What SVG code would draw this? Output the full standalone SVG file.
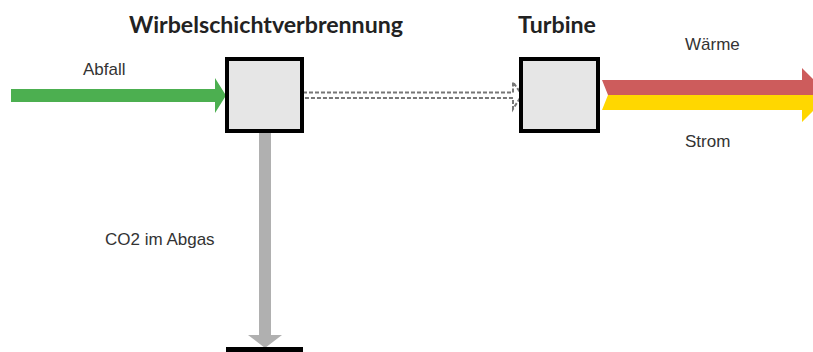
<svg xmlns="http://www.w3.org/2000/svg" width="813" height="352" viewBox="0 0 813 352">
<style>
.box{fill:#e6e6e6;stroke:#000;stroke-width:4}
.title{font-family:Lato,"Liberation Sans",sans-serif;font-weight:bold;font-size:23px;fill:#222}
.lbl{font-family:"Liberation Sans",Arial,sans-serif;font-size:17px;fill:#333}
</style>
<rect width="813" height="352" fill="#fff"/>
<g id="connectors">
<path id="abfall" d="M11,89 H215 V78 L226,95.5 L215,113 V102 H11 Z" fill="#4caf50"/>
<path id="dampf" d="M303,92.5 H513 V82 L522,95 L513,109 V98 H303" fill="#fff" stroke="#777" stroke-width="2" stroke-dasharray="4,2"/>
<path id="co2" d="M259,133 H271 V335 H282 L265,348 L248,335 H259 Z" fill="#b0b0b0"/>
<path id="waerme" d="M602,80 H802 V68 L829,95 H608 Z" fill="#cd5c5c"/>
<path id="strom" d="M608,95 H829 L802,122 V110 H602 Z" fill="#ffd700"/>
</g>
<g id="wirbel">
<rect class="box" x="227" y="59" width="75" height="72"/>
<text class="title" x="129" y="33" textLength="274" lengthAdjust="spacingAndGlyphs">Wirbelschichtverbrennung</text>
</g>
<g id="turbine">
<rect class="box" x="521" y="59" width="77" height="72"/>
<text class="title" x="518" y="33" textLength="78" lengthAdjust="spacingAndGlyphs">Turbine</text>
</g>
<g id="senke">
<rect x="226" y="347" width="77" height="5" fill="#000"/>
</g>
<g id="labels">
<text class="lbl" x="83" y="75">Abfall</text>
<text class="lbl" x="105" y="245">CO2 im Abgas</text>
<text class="lbl" x="685" y="50">Wärme</text>
<text class="lbl" x="685" y="147">Strom</text>
</g>
</svg>
